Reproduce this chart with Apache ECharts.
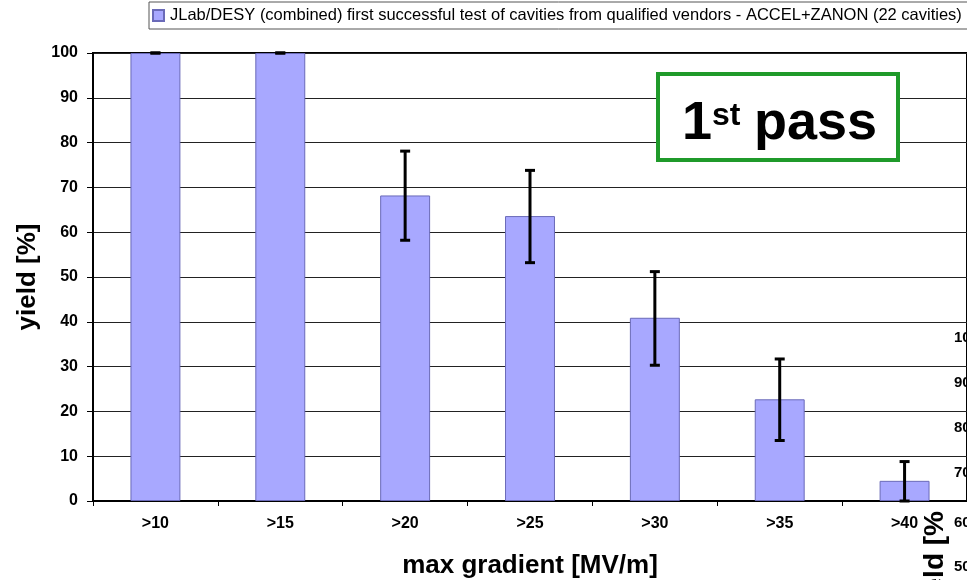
<!DOCTYPE html>
<html>
<head>
<meta charset="utf-8">
<script src="https://cdn.jsdelivr.net/npm/echarts@6/dist/echarts.min.js"></script>
<style>
html,body{margin:0;padding:0;background:#fff;}
#main{width:967px;height:580px;}
</style>
</head>
<body>
<div id="main"></div>
<script>
// ---- data ----
var categories = ['>10', '>15', '>20', '>25', '>30', '>35', '>40'];
var yieldValues = [100, 100, 68.2, 63.6, 40.9, 22.7, 4.5];
var errLow = [100, 100, 58.2, 53.2, 30.3, 13.5, 0];
var errHigh = [100, 100, 78.1, 73.8, 51.2, 31.7, 8.8];
var seriesName = 'JLab/DESY (combined) first successful test of cavities from qualified vendors - ACCEL+ZANON (22 cavities)';
var otherAxisLabels = ['100', '90', '80', '70', '60', '50'];

var errData = categories.map(function (c, i) { return [i, errLow[i], errHigh[i]]; });

var chart = echarts.init(document.getElementById('main'), null, {renderer: 'canvas'});
var boldFont = 'Arial, "Liberation Sans", sans-serif';

var graphics = [
  {type: 'rect', z: 100, shape: {x: 658, y: 74, width: 240, height: 86},
   style: {fill: '#fff', stroke: '#1f9a2a', lineWidth: 4}},
  {type: 'text', z: 101, x: 682, y: 151, style: {text: '1', font: 'bold 54px ' + boldFont, fill: '#000', verticalAlign: 'bottom'}},
  {type: 'text', z: 101, x: 712, y: 100, style: {text: 'st', font: 'bold 32px ' + boldFont, fill: '#000', verticalAlign: 'top'}},
  {type: 'text', z: 101, x: 754, y: 151, style: {text: 'pass', font: 'bold 54px ' + boldFont, fill: '#000', verticalAlign: 'bottom'}},
  {type: 'text', z: 50, x: 935, y: 511, rotation: Math.PI / 2,
   style: {text: 'yield [%', font: 'bold 28px ' + boldFont, fill: '#000', align: 'right', verticalAlign: 'middle'}}
];
var ys = [338, 383, 428, 473, 523, 567];
otherAxisLabels.forEach(function (t, i) {
  graphics.push({type: 'text', z: 50, x: 954, y: ys[i],
    style: {text: t, font: 'bold 15px ' + boldFont, fill: '#000', verticalAlign: 'middle'}});
});

chart.setOption({
  animation: false,
  backgroundColor: '#fff',
  legend: {
    show: true,
    left: 149, top: 2,
    padding: [5, 40, 5, 3],
    itemGap: 4,
    itemWidth: 11, itemHeight: 11,
    borderColor: '#555', borderWidth: 1,
    data: [{name: seriesName, icon: 'rect'}],
    textStyle: {fontFamily: 'Arial, "Liberation Sans", sans-serif', fontSize: 16.5, color: '#000', padding: [0, 0, 0, 1]}
  },
  grid: {left: 93, right: 0, top: 53, height: 448, outerBoundsMode: 'none', containLabel: false,
         show: true, backgroundColor: '#fff', borderColor: '#000', borderWidth: 2},
  xAxis: {
    type: 'category',
    data: categories,
    name: 'max gradient [MV/m]',
    nameLocation: 'middle',
    nameGap: 52,
    nameTextStyle: {fontFamily: boldFont, fontWeight: 'bold', fontSize: 26, color: '#000'},
    axisLine: {lineStyle: {color: '#000', width: 2}},
    axisTick: {show: true, length: 5, lineStyle: {color: '#000', width: 1}},
    axisLabel: {fontFamily: boldFont, fontWeight: 'bold', fontSize: 16, color: '#000', margin: 15},
    splitLine: {show: false}
  },
  yAxis: {
    type: 'value',
    min: 0, max: 100, interval: 10,
    name: 'yield [%]',
    nameLocation: 'middle',
    nameGap: 48,
    nameTextStyle: {fontFamily: boldFont, fontWeight: 'bold', fontSize: 26, color: '#000'},
    axisLine: {show: true, lineStyle: {color: '#000', width: 2}},
    axisTick: {show: true, length: 6, lineStyle: {color: '#000', width: 1}},
    axisLabel: {fontFamily: boldFont, fontWeight: 'bold', fontSize: 16, color: '#000', margin: 15},
    splitLine: {show: true, lineStyle: {color: '#222', width: 1}}
  },
  series: [
    {
      name: seriesName,
      type: 'bar',
      data: yieldValues,
      barWidth: '40%',
      itemStyle: {color: '#a8a8ff', borderColor: '#6a6ab8', borderWidth: 1},
      z: 2
    },
    {
      name: 'err',
      type: 'custom',
      data: errData,
      z: 5,
      renderItem: function (params, api) {
        var i = api.value(0);
        var lo = api.coord([i, api.value(1)]);
        var hi = api.coord([i, api.value(2)]);
        var hw = 5;
        return {
          type: 'group',
          children: [
            {type: 'line', shape: {x1: lo[0], y1: lo[1], x2: hi[0], y2: hi[1]}, style: {stroke: '#000', lineWidth: 3}},
            {type: 'line', shape: {x1: hi[0] - hw, y1: hi[1], x2: hi[0] + hw, y2: hi[1]}, style: {stroke: '#000', lineWidth: 3}},
            {type: 'line', shape: {x1: lo[0] - hw, y1: lo[1], x2: lo[0] + hw, y2: lo[1]}, style: {stroke: '#000', lineWidth: 3}}
          ]
        };
      }
    }
  ],
  graphic: graphics
});
</script>
</body>
</html>
